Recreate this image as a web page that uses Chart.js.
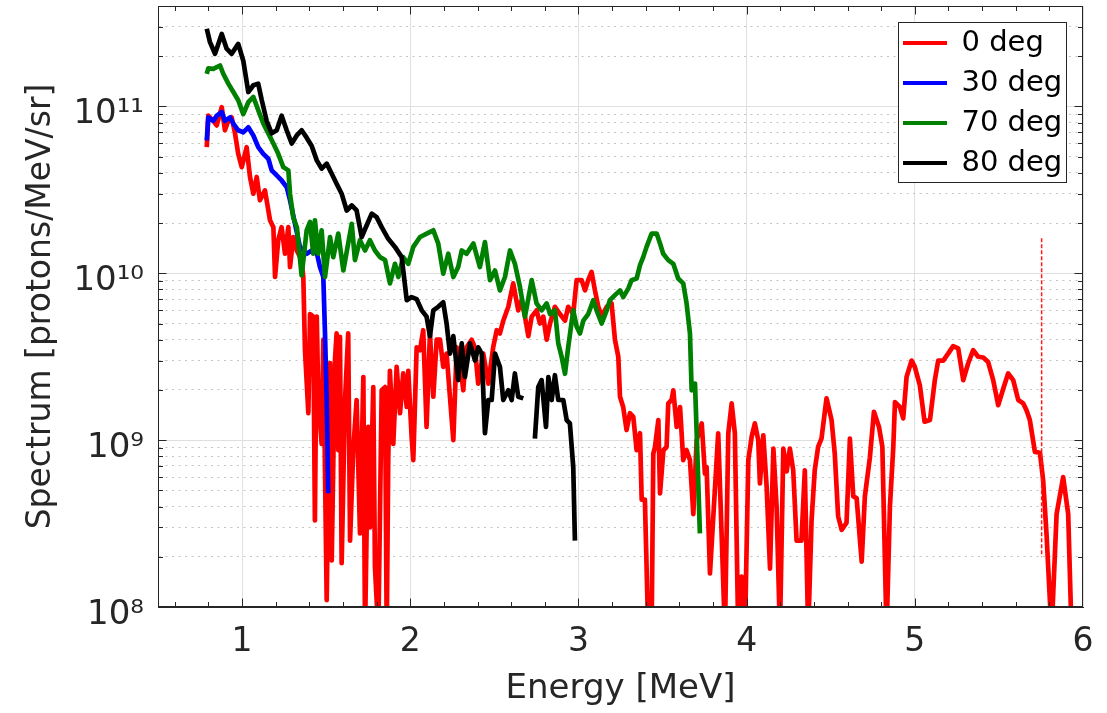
<!DOCTYPE html>
<html>
<head>
<meta charset="utf-8">
<script src="https://cdn.jsdelivr.net/npm/chart.js@4.4.1/dist/chart.umd.min.js"></script>
<style>
html,body{margin:0;padding:0;background:#ffffff;}
#wrap{width:1107px;height:713px;position:relative;}
canvas{display:block;}
</style>
</head>
<body>
<div id="wrap"><canvas id="c"></canvas></div>
<script>
// ---------------- data ----------------
const seriesLabels = ['0 deg', '30 deg', '70 deg', '80 deg'];
const seriesColors = ['#ff0000', '#0000ff', '#008000', '#000000'];

const xTickValues = [1, 2, 3, 4, 5, 6];
const xTickLabels = ['1', '2', '3', '4', '5', '6'];
const yTickValues = [1e8, 1e9, 1e10, 1e11];
const yTickLabels = ['10⁸', '10⁹', '10¹⁰', '10¹¹'];

// 0 deg (red)
const e0 = [0.790,0.799,0.829,0.849,0.879,0.898,0.918,0.938,0.958,0.977,0.998,1.027,1.047,1.067,1.087,1.106,1.136,1.166,1.186,1.196,
1.215,1.235,1.255,1.275,1.285,1.304,1.325,1.354,1.364,1.374,1.394,1.404,1.423,1.433,1.444,1.453,1.473,1.483,1.503,1.523,
1.533,1.552,1.562,1.572,1.582,1.592,1.612,1.631,1.642,1.661,1.681,1.701,1.721,1.731,1.750,1.760,1.780,1.790,1.810,1.830,
1.850,1.860,1.869,1.879,1.899,1.919,1.939,1.958,1.979,1.988,2.008,2.018,2.038,2.058,2.077,2.097,2.117,2.137,2.157,2.177,
2.196,2.216,2.256,2.276,2.295,2.315,2.335,2.365,2.384,2.404,2.434,2.464,2.493,2.514,2.533,2.553,2.583,2.612,2.642,2.662,
2.682,2.702,2.722,2.751,2.771,2.791,2.811,2.831,2.860,2.890,2.920,2.939,2.969,2.989,3.019,3.039,3.058,3.078,3.098,3.118,
3.138,3.168,3.197,3.217,3.237,3.247,3.266,3.286,3.306,3.326,3.346,3.366,3.376,3.395,3.415,3.435,3.445,3.455,3.475,3.485,
3.505,3.524,3.534,3.554,3.564,3.584,3.604,3.623,3.643,3.663,3.683,3.703,3.733,3.752,3.762,3.782,3.831,3.871,3.891,3.911,
3.930,3.950,3.970,3.990,4.010,4.030,4.049,4.069,4.079,4.099,4.119,4.139,4.159,4.178,4.198,4.218,4.238,4.257,4.277,4.297,
4.326,4.346,4.366,4.386,4.405,4.425,4.445,4.475,4.505,4.524,4.544,4.565,4.594,4.614,4.634,4.654,4.684,4.703,4.733,4.757,
4.787,4.807,4.832,4.852,4.872,4.882,4.911,4.931,4.951,4.981,5.000,5.030,5.058,5.090,5.119,5.139,5.169,5.198,5.228,5.258,
5.288,5.317,5.347,5.377,5.407,5.436,5.466,5.496,5.526,5.555,5.585,5.615,5.645,5.664,5.684,5.714,5.744,5.763,5.784,5.813,
5.843,5.882,5.912,5.932];
const s0 = [5.7e10,8.8e10,8.2e10,7.7e10,9.9e10,7.2e10,8.2e10,8.6e10,6.9e10,5.2e10,4.33e10,5.7e10,3.78e10,3.0e10,3.78e10,2.74e10,3.14e10,2.08e10,1.89e10,9.5e9,
1.58e10,1.89e10,1.31e10,1.89e10,1.09e10,1.65e10,1.37e10,1.2e10,9.5e9,3.46e9,1.45e9,5.7e9,5.5e9,3.3e8,5.5e9,1.82e9,9.5e8,4.0e9,1.1e8,2.9e9,
1.9e8,3.0e9,4.36e9,8.7e8,4.16e9,1.83e8,1.74e9,4.36e9,2.5e8,8.7e8,1.74e9,2.76e8,2.39e9,7e7,1.2e9,3.0e8,2.08e9,1.74e8,7e7,1.99e9,
2.08e9,7e7,7.6e8,2.6e9,9.5e8,2.75e9,1.45e9,2.51e9,1.58e9,2.6e9,1.05e9,7.6e8,3.6e9,3.46e9,4.56e9,1.2e9,4.36e9,1.82e9,4.0e9,4.0e9,
2.75e9,3.3e9,1.0e9,3.6e9,3.0e9,1.99e9,3.6e9,4.0e9,3.6e9,2.18e9,3.3e9,2.18e9,3.6e9,4.56e9,4.36e9,5.2e9,6.3e9,8.7e9,6.0e9,6.9e9,
5.5e9,4.2e9,5.5e9,6.0e9,5.0e9,5.5e9,4.0e9,5.0e9,6.3e9,5.7e9,5.2e9,6.3e9,5.7e9,9.1e9,9.1e9,7.9e9,9.1e9,1.02e10,7.9e9,6.3e9,
5.5e9,6.3e9,6.6e9,4.0e9,3.16e9,1.82e9,1.58e9,1.15e9,1.45e9,1.38e9,8.7e8,1.1e9,4.4e8,4.4e8,7e7,7e7,8.3e8,9.1e8,1.32e9,4.8e8,
8.7e8,9.1e8,1.66e9,1.74e9,1.99e9,1.2e9,1.58e9,7.6e8,8.7e8,7.6e8,3.6e8,1.0e9,1.26e9,6.3e8,6.9e8,1.59e8,1.1e9,7e7,1.1e9,1.66e9,
1.1e9,7e7,1.52e8,7e7,7.6e8,1.05e9,1.26e9,1.0e9,5.5e8,1.07e9,5.25e8,1.7e8,8.9e8,4.0e8,7e7,8.9e8,6.5e8,8.9e8,6.6e8,2.5e8,
2.5e8,6.6e8,7e7,3.3e8,6.6e8,9.1e8,1.02e9,1.78e9,1.32e9,8.3e8,3.5e8,2.9e8,3.2e8,1.02e9,4.6e8,4.5e8,1.87e8,4.6e8,7.9e8,1.48e9,
1.2e9,9.1e8,7e7,4.0e8,9.1e8,1.69e9,1.58e9,1.35e9,2.39e9,3.0e9,2.75e9,2.13e9,1.29e9,1.32e9,2.29e9,3.0e9,3.0e9,3.3e9,3.66e9,3.55e9,
2.29e9,2.88e9,3.46e9,3.16e9,3.13e9,2.94e9,2.29e9,1.62e9,2.04e9,2.51e9,2.29e9,1.74e9,1.66e9,1.51e9,1.32e9,8.5e8,8.4e8,5.75e8,2.64e8,7e7,
3.6e8,6.0e8,3.6e8,7e7];

// 30 deg (blue)
const e30 = [0.790,0.799,0.829,0.849,0.879,0.898,0.928,0.948,0.977,1.007,1.037,1.067,1.096,1.126,1.156,1.176,1.206,1.235,1.265,1.285,
1.304,1.344,1.384,1.414,1.444,1.463,1.483,1.493,1.503,1.512];
const s30 = [6.25e10,8.6e10,8.2e10,8.8e10,9.25e10,8.2e10,8.6e10,7.9e10,7.2e10,7.0e10,7.5e10,6.7e10,5.7e10,5.2e10,4.86e10,4.14e10,3.86e10,3.6e10,3.29e10,2.74e10,
2.22e10,1.44e10,1.31e10,1.37e10,1.33e10,1.09e10,9.5e9,4.36e9,1.74e9,4.8e8];

// 70 deg (green)
const e70 = [0.790,0.799,0.829,0.869,0.888,0.918,0.948,0.977,1.007,1.037,1.067,1.096,1.126,1.156,1.186,1.215,1.245,1.275,1.285,1.304,
1.326,1.354,1.384,1.404,1.423,1.433,1.453,1.473,1.493,1.523,1.542,1.572,1.602,1.631,1.652,1.671,1.701,1.731,1.760,1.790,
1.820,1.850,1.879,1.909,1.929,1.958,1.988,2.018,2.058,2.098,2.137,2.166,2.196,2.226,2.256,2.285,2.306,2.335,2.375,2.414,
2.444,2.474,2.504,2.533,2.563,2.593,2.622,2.652,2.682,2.722,2.751,2.781,2.811,2.831,2.860,2.880,2.900,2.920,2.939,2.969,
2.989,3.009,3.029,3.058,3.088,3.108,3.138,3.168,3.187,3.217,3.247,3.266,3.296,3.316,3.346,3.366,3.385,3.405,3.435,3.465,
3.485,3.504,3.534,3.564,3.593,3.623,3.643,3.663,3.673,3.693,3.703,3.722];
const s70 = [1.57e11,1.69e11,1.68e11,1.76e11,1.57e11,1.37e11,1.22e11,1.09e11,9.0e10,1.06e11,1.14e11,9.5e10,7.9e10,6.9e10,6.0e10,5.2e10,4.33e10,4.14e10,3.0e10,2.17e10,
1.88e10,9.7e9,1.81e10,2.03e10,1.31e10,2.08e10,1.31e10,1.81e10,9.5e9,1.65e10,1.25e10,1.73e10,1.04e10,1.51e10,1.98e10,1.2e10,1.58e10,1.37e10,1.58e10,1.37e10,
1.25e10,1.2e10,8.7e9,1.14e10,9.5e9,1.25e10,1.14e10,1.44e10,1.65e10,1.73e10,1.81e10,1.51e10,9.95e9,1.31e10,9.5e9,1.09e10,1.37e10,1.31e10,1.51e10,1.09e10,
1.54e10,9.1e9,1.04e10,7.9e9,9.5e9,1.37e10,1.14e10,8.3e9,5.5e9,9.1e9,6.6e9,6.0e9,6.6e9,5.7e9,6.0e9,3.8e9,3.16e9,2.5e9,3.6e9,6.0e9,
4.8e9,4.36e9,5.2e9,5.7e9,6.9e9,6.0e9,5.0e9,6.0e9,6.9e9,7.4e9,7.9e9,7.2e9,8.1e9,9.1e9,9.3e9,1.12e10,1.25e10,1.44e10,1.73e10,1.73e10,
1.51e10,1.31e10,1.2e10,1.14e10,9.3e9,8.7e9,6.6e9,4.36e9,1.99e9,2.18e9,1.1e9,2.76e8];

// 80 deg (black); null marks the gap in the measured spectrum
const e80 = [0.790,0.809,0.839,0.879,0.908,0.938,0.977,1.007,1.037,1.067,1.096,1.117,1.146,1.176,1.206,1.235,1.265,1.295,1.325,1.354,
1.384,1.414,1.444,1.473,1.503,1.533,1.562,1.592,1.622,1.652,1.681,1.711,1.741,1.771,1.800,1.830,1.869,1.909,1.949,1.979,
2.008,2.038,2.068,2.097,2.117,2.137,2.166,2.196,2.216,2.236,2.256,2.285,2.306,2.325,2.355,2.385,2.404,2.425,2.444,2.464,
2.484,2.504,2.533,2.553,2.583,2.603,2.622,2.642,2.672,2.705,2.741,2.761,2.781,2.807,2.821,2.841,2.860,2.880,2.910,2.930,
2.949,2.969,2.979];
const s80 = [2.92e11,2.43e11,2.07e11,2.72e11,2.22e11,2.07e11,2.37e11,1.88e11,1.22e11,1.34e11,1.37e11,1.09e11,8.2e10,6.9e10,7.2e10,8.8e10,7.2e10,6.0e10,6.7e10,7.2e10,
6.5e10,5.8e10,4.75e10,4.24e10,4.54e10,3.95e10,3.44e10,3.0e10,2.38e10,2.55e10,2.38e10,1.65e10,1.94e10,2.28e10,2.17e10,1.89e10,1.61e10,1.44e10,1.25e10,6.9e9,
7.2e9,7.0e9,6.0e9,5.5e9,4.2e9,6.0e9,6.3e9,6.7e9,5.0e9,3.3e9,4.2e9,2.29e9,3.8e9,2.39e9,3.8e9,3.0e9,3.6e9,3.3e9,1.1e9,1.74e9,
1.74e9,3.3e9,2.75e9,1.74e9,1.99e9,1.74e9,2.51e9,1.82e9,1.78e9,null,1.02e9,2.08e9,2.29e9,1.2e9,2.39e9,1.74e9,2.45e9,1.74e9,1.74e9,1.32e9,
1.26e9,6.9e8,2.5e8];

// thin dashed red marker line
const markerEnergy = [5.754, 5.754];
const markerValues = [1.62e10, 2.0e8];

// ---------------- helpers ----------------
const FONT = "'DejaVu Sans', 'Liberation Sans', sans-serif";
const AXIS = '#262626';
const isInt = v => Math.abs(v - Math.round(v)) < 1e-6;
const isDecade = v => { const l = Math.log10(v); return Math.abs(l - Math.round(l)) < 1e-9; };
const intMantissa = v => { const m = v / Math.pow(10, Math.floor(Math.log10(v) + 1e-9)); return Math.abs(m - Math.round(m)) < 1e-6; };
const pts = (es, vs) => es.map((e, i) => ({x: e, y: vs[i]}));

const common = {borderWidth: 4.7, pointRadius: 0, pointHoverRadius: 0, tension: 0, fill: false,
  spanGaps: false, clip: 0, borderJoinStyle: 'round', borderCapStyle: 'butt'};

const datasets = [
  Object.assign({label: seriesLabels[0], data: pts(e0, s0), borderColor: seriesColors[0], backgroundColor: seriesColors[0], order: 4}, common),
  Object.assign({label: seriesLabels[1], data: pts(e30, s30), borderColor: seriesColors[1], backgroundColor: seriesColors[1], order: 3}, common),
  Object.assign({label: seriesLabels[2], data: pts(e70, s70), borderColor: seriesColors[2], backgroundColor: seriesColors[2], order: 2}, common),
  Object.assign({label: seriesLabels[3], data: pts(e80, s80), borderColor: seriesColors[3], backgroundColor: seriesColors[3], order: 1}, common),
  Object.assign({}, common, {label: 'marker', data: pts(markerEnergy, markerValues), borderColor: '#ff1a1a',
    borderWidth: 1.5, borderDash: [4, 2], order: 0})
];

// frame, inward ticks, legend placement
const framePlugin = {
  id: 'frame',
  afterLayout(chart) {
    const lg = chart.legend;
    if (!lg) return;
    const L = 892, T = 17.5, W = 180, H = 175;
    lg.left = L; lg.top = T; lg.right = L + W; lg.bottom = T + H; lg.width = W; lg.height = H;
    if (!lg._bgWrapped) {
      const orig = lg.draw;
      lg.draw = function (area) {
        const c = this.ctx;
        c.save();
        c.fillStyle = '#ffffff';
        c.fillRect(898, 22, 169, 161);
        c.strokeStyle = AXIS; c.lineWidth = 1;
        c.strokeRect(898.5, 22.5, 168, 160);
        c.restore();
        orig.call(this, area);
      };
      lg._bgWrapped = true;
    }
  },
  afterDatasetsDraw(chart) {
    const {ctx, chartArea: a, scales} = chart;
    const xs = scales.x, ys = scales.y;
    const L = Math.round(a.left) + 0.5, R = Math.round(a.right) - 0.5;
    const T = Math.round(a.top) + 0.5, B = Math.round(a.bottom) - 0.5;
    ctx.save();
    ctx.strokeStyle = AXIS; ctx.lineWidth = 1;
    ctx.strokeRect(L, T, R - L, B - T);
    ctx.beginPath();
    xs.ticks.forEach(t => {
      const px = Math.round(xs.getPixelForValue(t.value)) + 0.5;
      if (px <= L + 1 || px >= R - 1) return;
      const len = isInt(t.value) ? 8 : 4.5;
      ctx.moveTo(px, B); ctx.lineTo(px, B - len);
      ctx.moveTo(px, T); ctx.lineTo(px, T + len);
    });
    ys.ticks.forEach(t => {
      const py = Math.round(ys.getPixelForValue(t.value)) + 0.5;
      if (py <= T + 1 || py >= B - 1) return;
      const len = isDecade(t.value) ? 8 : 4.5;
      ctx.moveTo(L, py); ctx.lineTo(L + len, py);
      ctx.moveTo(R, py); ctx.lineTo(R - len, py);
    });
    ctx.stroke();
    ctx.restore();
  }
};

const baseGen = (Chart.defaults.plugins.legend && Chart.defaults.plugins.legend.labels.generateLabels);

new Chart(document.getElementById('c'), {
  type: 'line',
  data: {datasets},
  plugins: [framePlugin],
  options: {
    responsive: true,
    maintainAspectRatio: false,
    animation: false,
    events: [],
    layout: {padding: {left: 0, top: 6, right: 24, bottom: 0}},
    plugins: {
      tooltip: {enabled: false},
      legend: {
        display: true,
        position: 'chartArea',
        align: 'start',
        labels: {
          font: {family: FONT, size: 29},
          color: '#000000',
          boxWidth: 44,
          boxHeight: 4,
          padding: 11,
          filter: item => item.datasetIndex < 4,
          sort: (a, b) => a.datasetIndex - b.datasetIndex,
          generateLabels: chart => baseGen(chart).map(it => Object.assign(it, {fillStyle: it.strokeStyle, lineWidth: 0, lineDash: []}))
        }
      }
    },
    scales: {
      x: {
        type: 'linear',
        min: 0.5,
        max: 6,
        afterFit(s) { s.height = 106; s.paddingLeft = 0; s.paddingRight = 0; },
        ticks: {
          stepSize: 0.2,
          includeBounds: false,
          autoSkip: false,
          maxRotation: 0,
          minRotation: 0,
          padding: 16,
          color: AXIS,
          font: {family: FONT, size: 33},
          callback: v => { const i = xTickValues.findIndex(d => Math.abs(d - v) < 1e-6); return i >= 0 ? xTickLabels[i] : ''; }
        },
        grid: {
          drawTicks: false,
          lineWidth: 1,
          color: c => (c.tick && isInt(c.tick.value)) ? '#dfdfdf' : 'rgba(0,0,0,0)'
        },
        border: {display: true, color: AXIS, width: 1},
        title: {display: true, text: 'Energy [MeV]', color: AXIS, font: {family: FONT, size: 34}, padding: {top: 0, bottom: 3}}
      },
      y: {
        type: 'logarithmic',
        min: 1e8,
        max: 4e11,
        afterFit(s) { s.width = 158; s.paddingTop = 0; s.paddingBottom = 0; },
        afterBuildTicks(s) { s.ticks = s.ticks.filter(t => intMantissa(t.value)); },
        ticks: {
          autoSkip: false,
          padding: 14,
          labelOffset: 8,
          color: AXIS,
          font: {family: FONT, size: 34},
          callback: v => { const i = yTickValues.findIndex(d => Math.abs(d - v) / d < 1e-9); return i >= 0 ? yTickLabels[i] : ''; }
        },
        grid: {
          drawTicks: false,
          lineWidth: 1,
          color: c => (c.tick && isDecade(c.tick.value)) ? '#dfdfdf' : '#c4c4c4'
        },
        border: {
          display: true, color: AXIS, width: 1,
          dash: c => (c.tick && !isDecade(c.tick.value)) ? [2, 4.5] : []
        },
        title: {display: true, text: 'Spectrum [protons/MeV/sr]', color: AXIS, font: {family: FONT, size: 33}, padding: {top: 22, bottom: 0}}
      }
    }
  }
});
</script>
</body>
</html>
